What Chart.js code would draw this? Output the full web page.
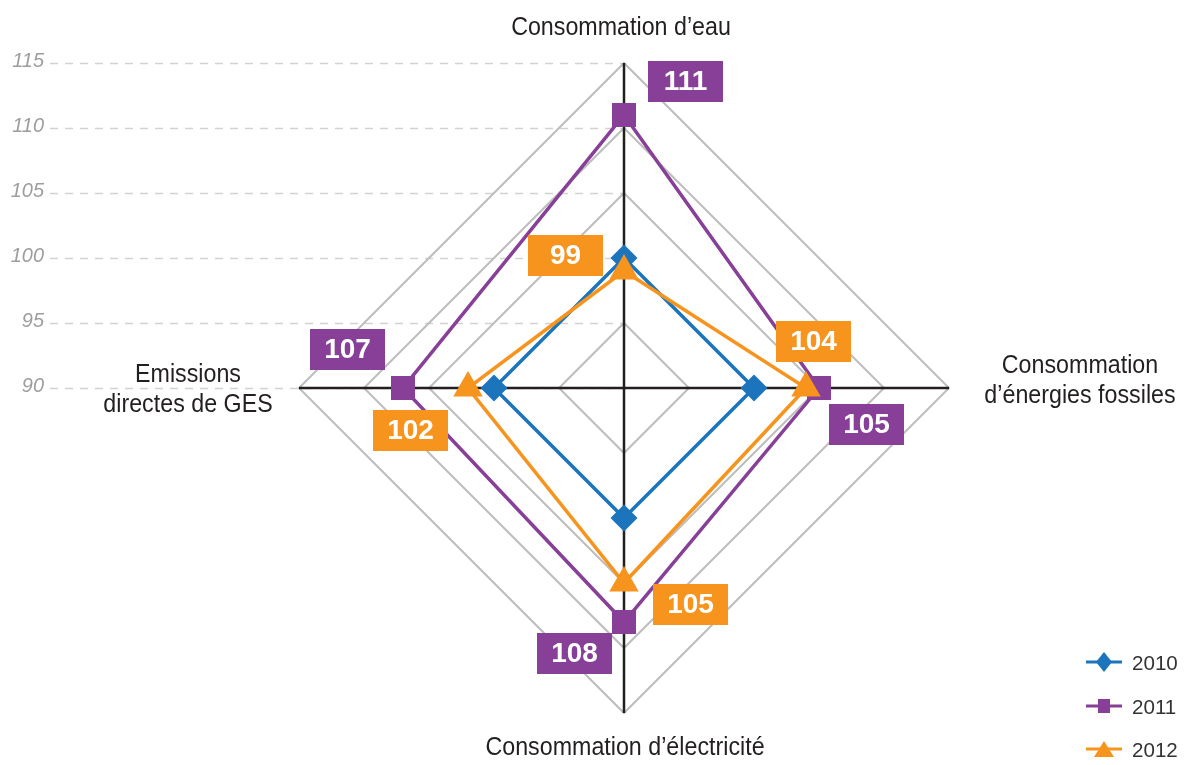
<!DOCTYPE html>
<html>
<head>
<meta charset="utf-8">
<script src="https://cdn.jsdelivr.net/npm/chart.js@4/dist/chart.umd.min.js"></script>
<style>
  html, body { margin: 0; padding: 0; background: #ffffff; }
  #wrap { position: relative; width: 1187px; height: 765px; }
  canvas { display: block; }
</style>
</head>
<body>
<div id="wrap"><canvas id="c" width="1187" height="765"></canvas></div>
<script>
// ---------- Data ----------
const categories = [
  ["Consommation d\u2019eau"],
  ["Consommation", "d\u2019\u00e9nergies fossiles"],
  ["Consommation d\u2019\u00e9lectricit\u00e9"],
  ["Emissions", "directes de GES"]
];
const seriesNames = ["2010", "2011", "2012"];
const values2010 = [100, 100, 100, 100];
const values2011 = [111, 105, 108, 107];
const values2012 = [99, 104, 105, 102];
const tickLabels = [90, 95, 100, 105, 110, 115];

// ---------- Styles ----------
const COLORS = ["#1C75BC", "#873F98", "#F7941E"];
const POINT_STYLES = ["rectRot", "rect", "triangle"];
const POINT_RADII = [13.5, 17, 17];
const SANS = "'Liberation Sans', Arial, sans-serif";
// label box offsets (dx, dy) from the point, per dataset (2011, 2012)
const LABEL_OFFSETS = {
  1: [[61.5, -33.5], [47.5, 36.5], [-49.5, 31], [-55.5, -39]],
  2: [[-58.5, -15.5], [7.5, -46.5], [66.5, 21], [-57.5, 42]]
};

function condText(ctx, text, x, y, align, scale) {
  ctx.save();
  ctx.translate(x, y);
  ctx.scale(scale, 1);
  ctx.textAlign = align;
  ctx.fillText(text, 0, 0);
  ctx.restore();
}

function drawMarker(ctx, style, x, y, hw, hh) {
  ctx.beginPath();
  if (style === "rectRot") {
    ctx.moveTo(x, y - hh); ctx.lineTo(x + hw, y); ctx.lineTo(x, y + hh); ctx.lineTo(x - hw, y);
  } else if (style === "rect") {
    ctx.rect(x - hw, y - hh, hw * 2, hh * 2);
  } else {
    ctx.moveTo(x, y - hh); ctx.lineTo(x + hw, y + hh); ctx.lineTo(x - hw, y + hh);
  }
  ctx.closePath();
  ctx.fill();
}

const decorPlugin = {
  id: "decor",
  beforeDraw(chart) {
    const ctx = chart.ctx;
    const r = chart.scales.r;
    ctx.save();
    ctx.fillStyle = "#ffffff";
    ctx.fillRect(0, 0, chart.width, chart.height);
    // dashed guide lines and tick labels on the left
    tickLabels.forEach(v => {
      const p = r.getPointPosition(0, r.getDistanceFromCenterForValue(v));
      ctx.strokeStyle = "#d2d2d2";
      ctx.lineWidth = 1.5;
      ctx.setLineDash([8, 7]);
      ctx.beginPath();
      ctx.moveTo(50, Math.round(p.y) + 0.5);
      ctx.lineTo(r.xCenter, Math.round(p.y) + 0.5);
      ctx.stroke();
      ctx.setLineDash([]);
      ctx.fillStyle = "#9d9d9d";
      ctx.font = "italic 21px " + SANS;
      ctx.textBaseline = "alphabetic";
      condText(ctx, String(v), 44, p.y + 4, "right", 0.95);
    });
    ctx.restore();
  },
  afterDraw(chart) {
    const ctx = chart.ctx;
    const r = chart.scales.r;
    const cx = r.xCenter, cy = r.yCenter, R = r.drawingArea;
    ctx.save();
    // axis (category) labels
    ctx.fillStyle = "#231F20";
    ctx.font = "25px " + SANS;
    ctx.textBaseline = "alphabetic";
    const AX = 0.93;
    // top
    condText(ctx, categories[0][0], cx - 3, cy - R - 28, "center", AX);
    // right
    condText(ctx, categories[1][0], cx + R + 131, cy - 15, "center", AX);
    condText(ctx, categories[1][1], cx + R + 131, cy + 15, "center", AX);
    // bottom
    condText(ctx, categories[2][0], cx + 1, cy + R + 42, "center", AX);
    // left
    condText(ctx, categories[3][0], cx - R - 111, cy - 6, "center", AX);
    condText(ctx, categories[3][1], cx - R - 111, cy + 24, "center", AX);

    // value label boxes
    [1, 2].forEach(di => {
      const meta = chart.getDatasetMeta(di);
      const vals = chart.data.datasets[di].data;
      meta.data.forEach((pt, j) => {
        const off = LABEL_OFFSETS[di][j];
        const bx = pt.x + off[0], by = pt.y + off[1];
        const w = 75, h = 41;
        ctx.fillStyle = COLORS[di];
        ctx.fillRect(Math.round(bx - w / 2), Math.round(by - h / 2), w, h);
        ctx.fillStyle = "#ffffff";
        ctx.font = "bold 28px " + SANS;
        ctx.textAlign = "center";
        ctx.textBaseline = "middle";
        ctx.fillText(String(vals[j]), bx, by + 1);
      });
    });

    // legend
    const legendY = [662, 706, 749];
    const markerSizes = [[8, 10], [6, 7], [10, 8]];
    seriesNames.forEach((name, i) => {
      const y = legendY[i];
      ctx.strokeStyle = COLORS[i];
      ctx.lineWidth = 3;
      ctx.beginPath();
      ctx.moveTo(1086, y);
      ctx.lineTo(1122, y);
      ctx.stroke();
      ctx.fillStyle = COLORS[i];
      drawMarker(ctx, POINT_STYLES[i], 1104, y, markerSizes[i][0], markerSizes[i][1]);
      ctx.fillStyle = "#333333";
      ctx.font = "21px " + SANS;
      ctx.textBaseline = "alphabetic";
      condText(ctx, name, 1132, y + 8, "left", 0.98);
    });
    ctx.restore();
  }
};

const datasets = [values2010, values2011, values2012].map((vals, i) => ({
  label: seriesNames[i],
  data: vals,
  borderColor: COLORS[i],
  backgroundColor: COLORS[i],
  pointBackgroundColor: COLORS[i],
  pointBorderColor: COLORS[i],
  pointStyle: POINT_STYLES[i],
  pointRadius: POINT_RADII[i],
  pointBorderWidth: 0,
  borderWidth: 3.5,
  fill: false,
  order: 3 - i
}));

new Chart(document.getElementById("c"), {
  type: "radar",
  data: { labels: categories, datasets },
  options: {
    responsive: false,
    animation: false,
    layout: { padding: { left: 299, right: 238, top: 63, bottom: 52 } },
    plugins: { legend: { display: false }, tooltip: { enabled: false } },
    elements: { line: { tension: 0 } },
    scales: {
      r: {
        min: 90,
        max: 115,
        ticks: { stepSize: 5, display: false },
        grid: { circular: false, color: "#BDBDBD", lineWidth: 2 },
        angleLines: { color: "#231F20", lineWidth: 2.5 },
        pointLabels: { display: false }
      }
    }
  },
  plugins: [decorPlugin]
});
</script>
</body>
</html>
